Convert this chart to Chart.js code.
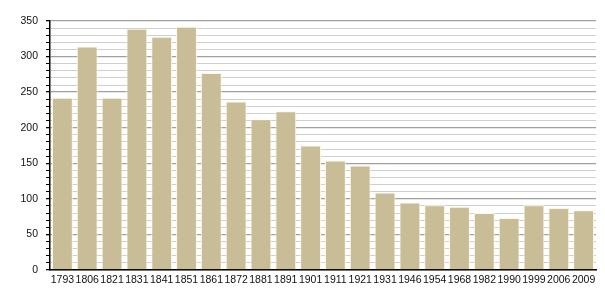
<!DOCTYPE html>
<html>
<head>
<meta charset="utf-8">
<script src="https://cdn.jsdelivr.net/npm/chart.js@4/dist/chart.umd.min.js"></script>
<style>
  html, body { margin: 0; padding: 0; background: #fff; }
  #wrap { width: 605px; height: 300px; }
</style>
</head>
<body>
<div id="wrap"><canvas id="myChart" width="605" height="300"></canvas></div>
<script>
Chart.defaults.font.family = '"Liberation Sans", Arial, sans-serif';
Chart.defaults.font.size = 10.5;
Chart.defaults.color = '#111';

// population by census year
const years = ['1793', '1806', '1821', '1831', '1841', '1851', '1861', '1872', '1881', '1891', '1901',
    '1911', '1921', '1931', '1946', '1954', '1968', '1982', '1990', '1999', '2006', '2009'];
const population = [242, 314, 242, 339, 328, 342, 277, 237, 212, 223, 175,
    154, 147, 109, 95, 91, 89, 80, 73, 91, 87, 84];
const yMax = 350;

var ctx = document.getElementById('myChart').getContext('2d');
new Chart(ctx, {
    type: 'bar',
    data: {
        labels: years,
        datasets: [{
            data: population,
            backgroundColor: '#c9bd97',
            borderColor: '#fbf7e4',
            borderWidth: 1,
            barPercentage: 0.84,
            categoryPercentage: 1
        }]
    },
    options: {
        responsive: false,
        animation: false,
        layout: { padding: { top: 21, right: 9, left: 0, bottom: 0 } },
        plugins: {
            legend: { display: false },
            tooltip: { enabled: false }
        },
        scales: {
            x: {
                grid: { display: false, drawTicks: false },
                border: { display: true, color: '#000', width: 1.5 },
                ticks: { padding: 4, maxRotation: 0, autoSkip: false, color: '#111' },
                afterFit: (scale) => { scale.height = 30; }
            },
            y: {
                min: 0,
                max: yMax,
                border: { display: true, color: '#000', width: 1.5 },
                grid: {
                    color: (c) => (c.tick && c.tick.value % 50 === 0) ? '#a0a0a0' : '#cfcfcf',
                    lineWidth: (c) => (c.tick && c.tick.value % 50 === 0) ? 1.3 : 1,
                    tickColor: '#000',
                    tickLength: 4
                },
                ticks: {
                    stepSize: 10,
                    autoSkip: false,
                    padding: 8,
                    color: '#111',
                    callback: (v) => v % 50 === 0 ? v : ''
                },
                afterFit: (scale) => { scale.width = 50; }
            }
        }
    }
});
</script>
</body>
</html>
